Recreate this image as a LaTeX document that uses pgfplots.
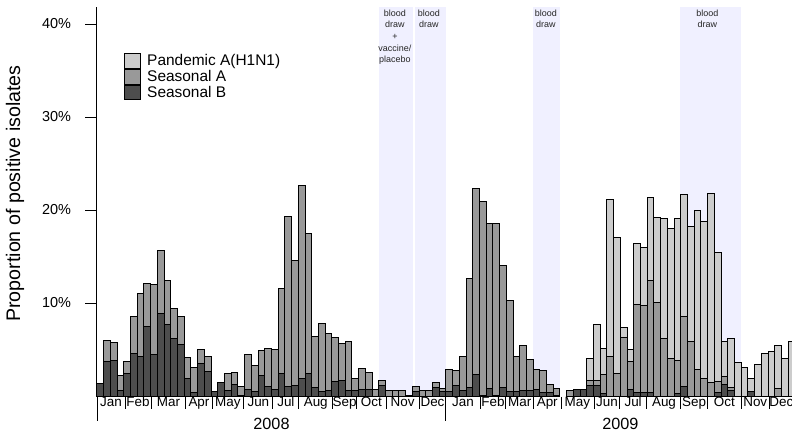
\documentclass[border=0pt]{standalone}
\usepackage{fontspec}
\setmainfont{Liberation Sans}
\usepackage{pgfplots}
\usepackage{pgfplotstable}
\pgfplotsset{compat=1.18}
\definecolor{pand}{HTML}{CCCCCC}
\definecolor{seasA}{HTML}{999999}
\definecolor{seasB}{HTML}{4D4D4D}
\definecolor{shadecol}{HTML}{F0F0FF}
\tikzset{bdtext/.style={anchor=north, align=center, inner sep=0pt, text=black!85, font=\fontsize{9}{11.7}\selectfont}}

\pgfplotstableread{
x B A P
0.5 1.35 0 0
1.5 3.73 2.22 0
2.5 3.84 1.89 0
3.5 0.57 1.65 0
4.5 2.44 1.22 0
5.5 4.52 4.05 0
6.5 4.27 6.70 0
7.5 7.46 4.69 0
8.5 4.44 7.50 0
9.5 8.89 6.71 0
10.5 7.71 4.73 0
11.5 6.20 3.26 0
12.5 5.56 3.04 0
13.5 1.86 2.33 0
14.5 0.43 2.62 0
15.5 3.51 1.54 0
16.5 2.62 1.61 0
17.5 0.47 0 0
18.5 1.43 0 0
19.5 0.60 1.80 0
20.5 1.20 1.30 0
21.5 0.10 0.94 0
22.5 0.65 3.79 0
23.5 0.47 2.83 0
24.5 2.22 2.70 0
25.5 1.06 4.04 0
26.5 0.68 4.30 0
27.5 2.40 9.14 0
28.5 1.00 18.25 0
29.5 1.11 13.48 0
30.5 1.86 20.74 0
31.5 2.40 15.06 0
32.5 0.93 5.52 0
33.5 0.50 7.28 0
34.5 0.54 6.20 0
35.5 1.54 4.73 0
36.5 1.68 3.95 0
37.5 0.61 5.23 0
38.5 0.57 1.26 0
39.5 0.66 2.34 0
40.5 0.66 1.90 0
41.5 0 0.68 0
42.5 1.10 0.60 0
43.5 0 0.58 0
44.5 0 0.58 0
45.5 0 0.58 0
46.5 0.05 0.05 0
47.5 0.50 0.55 0
48.5 0 0.58 0
49.5 0 0.58 0
50.5 0.95 0.52 0
51.5 0.46 0.40 0
52.5 0.48 2.37 0
53.5 1.12 1.60 0
54.5 0.55 3.70 0
55.5 0.93 11.67 0
56.5 2.28 20.02 0
57.5 0.10 20.80 0
58.5 0.79 17.71 0
59.5 0.10 18.40 0
60.5 0.93 13.07 0
61.5 0.50 9.75 0
62.5 0.50 3.77 0
63.5 0.57 4.84 0
64.5 0.57 3.33 0
65.5 0.65 2.18 0
66.5 0.43 2.29 0
67.5 0.43 0.86 0
68.5 0.10 0.76 0
69.5 0 0 0
70.5 0 0.60 0
71.5 0.70 0 0
72.5 0.65 0 0
73.5 1.15 0.57 2.26
74.5 1.15 0.57 5.98
75.5 0.30 1.96 2.83
76.5 0 4.23 16.87
77.5 0 2.40 14.60
78.5 0 6.34 1.01
79.5 0.68 3.08 1.26
80.5 0.43 9.43 6.54
81.5 0.40 9.35 6.25
82.5 0.40 12.00 8.90
83.5 0 10.07 9.13
84.5 0 6.16 12.91
85.5 0 4.01 13.95
86.5 0.30 3.54 15.23
87.5 1.00 7.55 13.13
88.5 0 5.91 12.29
89.5 0 2.82 17.08
90.5 0 1.92 16.88
91.5 0 1.46 20.34
92.5 0.40 1.15 13.90
93.5 1.22 0.86 3.76
94.5 0.62 0.25 5.26
95.5 0 0 3.64
96.5 0 0 3.08
97.5 0.48 0 1.42
98.5 0 0 3.38
99.5 0 0 4.55
100.5 0 0 4.78
101.5 0 0.82 4.66
102.5 0 0 4.05
103.5 0 0 5.86
}\datatable

\begin{document}
\begin{tikzpicture}
\clip (-97bp,-35bp) rectangle (695bp,396bp);
% shaded study periods (background), 6.71bp per week
\fill[shadecol] (281.8bp,0) rectangle (315.7bp,389bp);
\fill[shadecol] (317.7bp,0) rectangle (348.9bp,389bp);
\fill[shadecol] (436.2bp,0) rectangle (463.0bp,389bp);
\fill[shadecol] (583.1bp,0) rectangle (644.2bp,389bp);
\node[bdtext] at (297.9bp,386.5bp) {blood\\draw\\+\\vaccine/\\placebo};
\node[bdtext] at (331.8bp,386.5bp) {blood\\draw};
\node[bdtext] at (448.9bp,386.5bp) {blood\\draw};
\node[bdtext] at (610.3bp,386.5bp) {blood\\draw};
\begin{axis}[
  at={(0,0)}, anchor=south west,
  scale only axis,
  width=697.84bp, height=389bp,
  xmin=0, xmax=104, ymin=0, ymax=41.83,
  clip=false,
  axis y line*=left, axis x line*=bottom,
  x axis line style={draw=none},
  y axis line style={line width=1bp, black},
  tick align=outside,
  ybar stacked, bar width=1,
  ytick={10,20,30,40},
  yticklabels={10\%,20\%,30\%,40\%},
  ytick style={line width=1bp, black, /pgfplots/major tick length=12bp},
  yticklabel style={font=\fontsize{14.5}{16}\selectfont, inner sep=0pt, anchor=east, xshift=-21.5bp},
  xtick={2.1,6.1,10.65,15.2,19.5,24.05,28.15,32.6,36.9,40.9,45.55,50,54.55,59,63,67.1,71.6,76,79.9,84.5,89,93.5,98.1,102},
  xticklabels={Jan,Feb,Mar,Apr,May,Jun,Jul,Aug,Sep,Oct,Nov,Dec,Jan,Feb,Mar,Apr,May,Jun,Jul,Aug,Sep,Oct,Nov,Dec},
  xtick style={draw=none},
  xticklabel style={font=\fontsize{13.5}{16}\selectfont, inner sep=0pt, anchor=base, yshift=-6.5bp},
  legend style={at={(axis description cs:0.0387,0.8817)}, anchor=north west, draw=none, fill=none,
    inner sep=0pt, row sep=0pt, column sep=6bp,
    font=\fontsize{15.5}{16}\selectfont, nodes={inner sep=0pt}},
  legend cell align=left,
  reverse legend,
  legend image code/.code={\draw[#1, line width=1bp, draw=black] (0bp,-7.35bp) rectangle (16bp,7.35bp);},
]
\addplot[fill=seasB, draw=black, line width=1bp] table[x=x,y=B]{\datatable};
\addlegendentry{Seasonal B}
\addplot[fill=seasA, draw=black, line width=1bp] table[x=x,y=A]{\datatable};
\addlegendentry{Seasonal A}
\addplot[fill=pand, draw=black, line width=1bp] table[x=x,y=P]{\datatable};
\addlegendentry{Pandemic A(H1N1)}
\end{axis}
% month separators and year separators
\foreach \m in {4.2,8.05,13.25,17.15,21.9,26.2,30.1,35.05,38.7,43.1,48,57.1,60.95,65.1,69.15,74.1,77.9,81.95,87,91,96,100.15}
  \draw[line width=1bp] (\m*6.71bp,-1bp) -- (\m*6.71bp,-13bp);
\draw[line width=1bp] (0,0) -- (0,-25bp);
\draw[line width=1bp] (348.9bp,0) -- (348.9bp,-25bp);
\node[anchor=base, font=\fontsize{16.3}{18}\selectfont, inner sep=0pt] at (174.5bp,-33bp) {2008};
\node[anchor=base, font=\fontsize{16.3}{18}\selectfont, inner sep=0pt] at (523.4bp,-33bp) {2009};
\node[rotate=90, font=\fontsize{19.7}{22}\selectfont, inner sep=0pt] at (-82bp,202.5bp) {Proportion of positive isolates};
\end{tikzpicture}
\end{document}
